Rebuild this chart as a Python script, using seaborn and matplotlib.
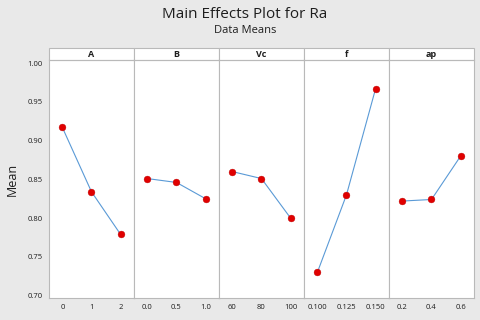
import matplotlib
matplotlib.use("Agg")
import matplotlib.pyplot as plt
from matplotlib.patches import Rectangle
import seaborn as sns
import pandas as pd

# factor names and their levels (as shown on the x axes)
factors = ["A", "B", "Vc", "f", "ap"]
levels = {
    "A": ["0", "1", "2"],
    "B": ["0.0", "0.5", "1.0"],
    "Vc": ["60", "80", "100"],
    "f": ["0.100", "0.125", "0.150"],
    "ap": ["0.2", "0.4", "0.6"],
}
# mean Ra at each level
means = {
    "A": [0.917, 0.834, 0.779],
    "B": [0.851, 0.846, 0.825],
    "Vc": [0.860, 0.851, 0.800],
    "f": [0.730, 0.830, 0.967],
    "ap": [0.822, 0.824, 0.880],
}
y_ticks = [0.70, 0.75, 0.80, 0.85, 0.90, 0.95, 1.00]

rows = []
for fac in factors:
    for i, (lab, m) in enumerate(zip(levels[fac], means[fac])):
        rows.append({"factor": fac, "pos": i, "level": lab, "mean": m})
df = pd.DataFrame(rows)

sns.set_style("white")
plt.rcParams["font.family"] = ["Open Sans", "DejaVu Sans"]

bg = "#e9e9e9"
edge = "#b9b9b9"
txt = "#1e1e1e"

fig, axes = plt.subplots(1, 5, figsize=(4.8, 3.2), dpi=100, sharey=True)
fig.patch.set_facecolor(bg)
fig.subplots_adjust(left=0.102, right=0.9875, bottom=0.069, top=0.8125, wspace=0)

for ax, fac in zip(axes, factors):
    sub = df[df["factor"] == fac]
    sns.lineplot(data=sub, x="pos", y="mean", ax=ax, color="#5a9ad6",
                 linewidth=0.8, zorder=2)
    sns.scatterplot(data=sub, x="pos", y="mean", ax=ax, color="#e00000",
                    s=24, edgecolor="#c00000", linewidth=0.3, zorder=3)
    ax.set_facecolor("white")
    ax.set_xlim(-0.46, 2.46)
    ax.set_ylim(0.697, 1.004)
    ax.set_xticks(sub["pos"])
    ax.set_xticklabels(sub["level"], fontsize=5.5, color=txt)
    ax.set_xlabel("")
    ax.set_ylabel("")
    for s in ax.spines.values():
        s.set_color(edge)
        s.set_linewidth(0.8)
    ax.tick_params(axis="x", length=2.5, width=0.6, color="#888888", pad=2)
    ax.tick_params(axis="y", length=2.5, width=0.6, color="#888888", pad=2,
                   labelsize=5.5, labelcolor=txt)
    # strip header
    ax.add_patch(Rectangle((0, 1.0), 1, 0.05, transform=ax.transAxes,
                           facecolor="white", edgecolor=edge, linewidth=0.8,
                           clip_on=False))
    ax.text(0.5, 1.025, fac, transform=ax.transAxes, ha="center", va="center",
            fontsize=6.5, fontweight="bold", color=txt)

axes[0].set_yticks(y_ticks)
axes[0].set_yticklabels([f"{v:.2f}" for v in y_ticks])
for ax in axes[1:]:
    ax.tick_params(axis="y", left=False, labelleft=False)
axes[0].set_ylabel("Mean", fontsize=9, color=txt, labelpad=6)

fig.text(0.51, 0.955, "Main Effects Plot for Ra", ha="center", va="center",
         fontsize=11, color=txt)
fig.text(0.51, 0.905, "Data Means", ha="center", va="center",
         fontsize=8, color=txt)

fig.savefig("out.png", dpi=100, facecolor=bg)
